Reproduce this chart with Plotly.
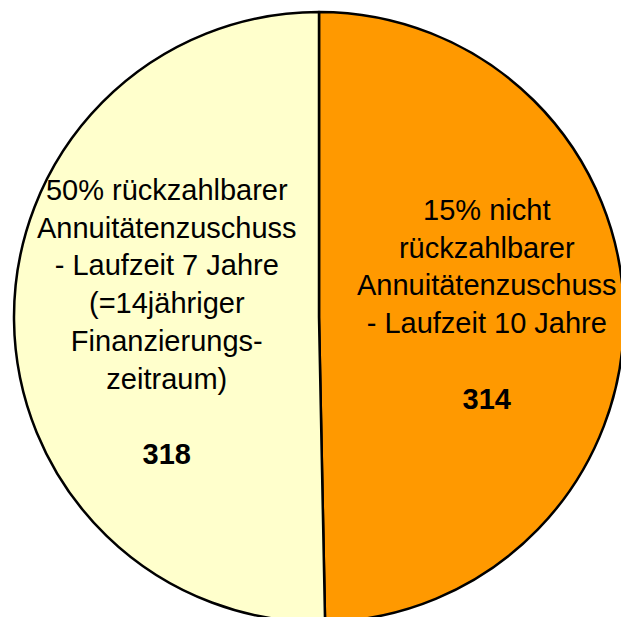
import plotly.graph_objects as go

# Data
labels = [
    "15% nicht<br>rückzahlbarer<br>Annuitätenzuschuss<br>- Laufzeit 10 Jahre",
    "50% rückzahlbarer<br>Annuitätenzuschuss<br>- Laufzeit 7 Jahre<br>(=14jähriger<br>Finanzierungs-<br>zeitraum)",
]
values = [314, 318]
colors = ["#FF9900", "#FFFFCC"]
label_pos_x = [0.776, 0.250]
label_pos_y = [0.520, 0.491]

fig = go.Figure(
    go.Pie(
        labels=labels,
        values=values,
        sort=False,
        direction="clockwise",
        rotation=0,
        marker=dict(colors=colors, line=dict(color="black", width=2.5)),
        textinfo="none",
        hoverinfo="skip",
        showlegend=False,
    )
)

annotations = []
for lab, val, x, y in zip(labels, values, label_pos_x, label_pos_y):
    annotations.append(
        dict(
            text=f"{lab}<br><br><b>{val}</b>",
            x=x,
            y=y,
            xref="paper",
            yref="paper",
            showarrow=False,
            align="center",
            xanchor="center",
            yanchor="middle",
            font=dict(family="Liberation Sans, Arial, sans-serif", size=29, color="black"),
        )
    )

fig.update_layout(
    width=640,
    height=640,
    margin=dict(l=14, r=16, t=12, b=18),
    paper_bgcolor="white",
    plot_bgcolor="white",
    annotations=annotations,
)

fig.write_html(
    "out.html",
    config={"displayModeBar": False},
    post_script="document.body.style.margin='0';document.body.style.overflow='hidden';",
)
